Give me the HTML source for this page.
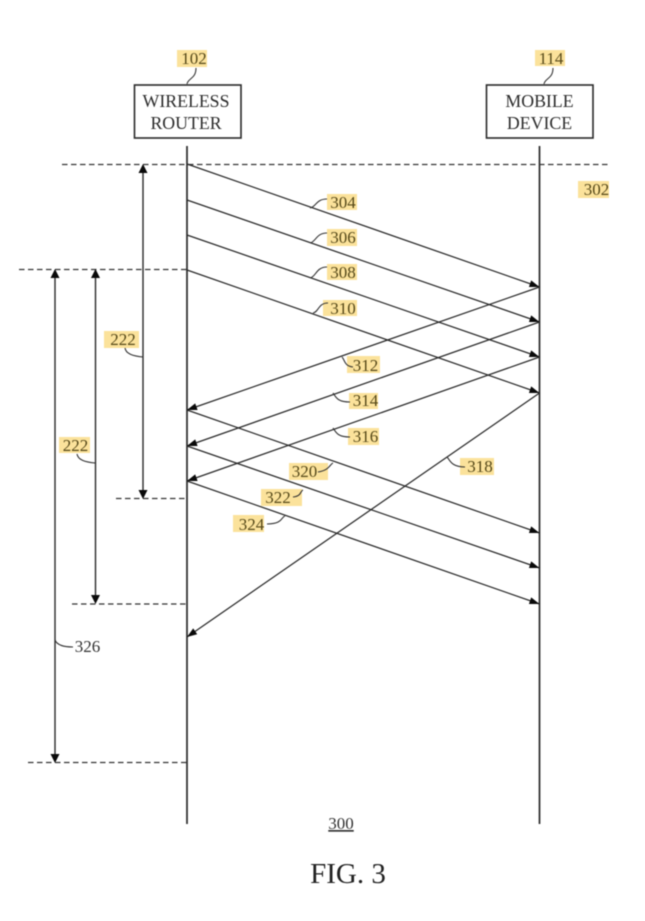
<!DOCTYPE html>
<html><head><meta charset="utf-8"><style>
html,body{margin:0;padding:0;background:#fff}
svg{display:block}
text{font-family:"Liberation Serif",serif}
.l{font-size:17px;fill:#574a1a;text-anchor:middle}
.b{font-size:17.8px;fill:#2c2c2c;text-anchor:middle}
.h{fill:#fbe29b}
.s{stroke:#2a2a2a;stroke-width:1.250;fill:none}
.c{stroke:#333;stroke-width:1.100;fill:none}
.d{stroke:#333;stroke-width:1.300;stroke-dasharray:5.500 3.500;fill:none}
.a{fill:#0a0a0a}
</style></head><body>
<svg width="645" height="921" viewBox="0 0 645 921" xmlns="http://www.w3.org/2000/svg">
<g style="filter:blur(.4px)">
<rect class="h" x="177" y="50" width="30" height="17"/>
<rect class="h" x="535" y="50" width="30" height="16"/>
<rect class="h" x="578" y="181" width="31" height="17"/>
<rect class="h" x="327" y="194" width="30" height="16"/>
<rect class="h" x="327" y="229" width="30" height="17"/>
<rect class="h" x="327" y="264" width="30" height="16"/>
<rect class="h" x="323" y="300" width="34" height="16"/>
<rect class="h" x="347" y="356" width="33" height="17"/>
<rect class="h" x="349" y="393" width="29" height="16"/>
<rect class="h" x="348" y="428" width="31" height="17"/>
<rect class="h" x="460" y="458" width="34" height="17"/>
<rect class="h" x="289" y="463" width="39" height="17"/>
<rect class="h" x="261" y="489" width="41" height="17"/>
<rect class="h" x="233" y="515" width="31" height="17"/>
<rect class="h" x="104" y="331" width="35" height="17"/>
<rect class="h" x="59" y="437" width="31" height="16"/>

<rect x="134.500" y="85" width="106.500" height="53" fill="none" stroke="#2a2a2a" stroke-width="1.600"/>
<rect x="486.500" y="85" width="106.500" height="53" fill="none" stroke="#2a2a2a" stroke-width="1.600"/>

<path class="s" style="stroke-width:1.700" d="M187 146V824M539.500 146V824"/>
<path class="d" d="M62 164.500H608M19 269.500H187M116 498.500H187M72 604H187M28 762.500H187"/>
<path class="s" style="stroke-width:1.400" d="M143 170V492M95.500 275V598M55 275V756"/>
<path class="a" d="M143 164l-4.500 9h9zM143 499l-4.500-9h9zM95.500 269l-4.500 9h9zM95.500 604l-4.500-9h9zM55 269l-4.500 9h9zM55 763l-4.500-9h9z"/>

<path class="s" d="M187 164L539.500 287M187 200L539.500 322M187 235L539.500 357M187 270L539.500 393"/>
<path class="s" d="M539.500 287L187 410M539.500 322L187 446M539.500 357L187 481M539.500 393L187 637"/>
<path class="s" d="M187 410L539.500 533M187 446L539.500 568M187 481L539.500 604"/>
<path class="a" d="M539.500 287h-10.600l2.300-6.600zM539.500 322h-10.600l2.300-6.600zM539.500 357h-10.600l2.300-6.600zM539.500 393h-10.600l2.300-6.600zM539.500 533h-10.600l2.300-6.600zM539.500 568h-10.600l2.300-6.600zM539.500 604h-10.600l2.300-6.600z"/>
<path class="a" d="M187 410h10.600l-2.400-6.600zM187 446h10.600l-2.400-6.600zM187 481h10.600l-2.400-6.600zM187 637l10.200-2.800-4-5.800z"/>

<path class="c" d="M187 84c1-6 9-5 9-16M544 84c1-6 9-5 9-16M310 208c6-1 6-9 17-9M310 243c6-1 6-10 17-10M310 278c6-1 6-11 17-11M313 313c6-1 5-10 15-10M342 357c3 3 2 9 11 10M333 393c3 4 4 9 17 9M333 428c3 4 4 9 17 9M447 457c3 3 4 10 18 10M333 463c-3 1-3 7-15 9M303 490c-3 1-1 6-10 7M285 516c-4 1-2 8-18 8M125 348c1 6 8 8 18 9M77 454c1 6 8 8 18 9M55 640c2 5 8 7 18 7"/>

<text class="l" x="194" y="64">102</text>
<text class="l" x="551" y="64">114</text>
<text class="l" x="596.500" y="195">302</text>
<text class="l" x="343" y="208">304</text>
<text class="l" x="343" y="243">306</text>
<text class="l" x="343" y="278">308</text>
<text class="l" x="343" y="314">310</text>
<text class="l" x="365.500" y="371">312</text>
<text class="l" x="365.500" y="406">314</text>
<text class="l" x="365.500" y="442">316</text>
<text class="l" x="480" y="472">318</text>
<text class="l" x="304.500" y="477">320</text>
<text class="l" x="278" y="503">322</text>
<text class="l" x="251.500" y="530">324</text>
<text class="l" x="123" y="345">222</text>
<text class="l" x="75.500" y="451">222</text>
<text x="87.500" y="652" font-size="17" fill="#333" text-anchor="middle">326</text>
<text x="341" y="829" font-size="17" fill="#333" text-anchor="middle" text-decoration="underline">300</text>
<text class="b" x="186" y="107">WIRELESS</text>
<text class="b" x="186" y="129">ROUTER</text>
<text class="b" x="539.500" y="107">MOBILE</text>
<text class="b" x="539.500" y="129">DEVICE</text>
<text x="348" y="883" font-size="29" fill="#222" text-anchor="middle">FIG. 3</text>
</g>
</svg>
</body></html>
